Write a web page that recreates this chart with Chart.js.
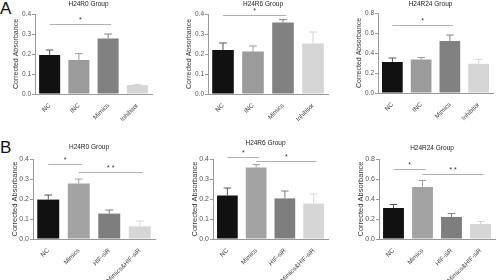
<!DOCTYPE html>
<html>
<head>
<meta charset="utf-8">
<script src="https://cdn.jsdelivr.net/npm/chart.js@4"></script>
<style>
    body { margin: 0; background: #fff; }
    #wrap { position: relative; width: 500px; height: 280px; overflow: hidden; }
    canvas { position: absolute; }
    .tag { position: absolute; font-family: "Liberation Sans", Arial, sans-serif; font-size: 17px; color: #111; line-height: 17px; }
</style>
</head>
<body>
<div id="wrap">
    <div class="tag" style="left:0px; top:0px;">A</div>
    <div class="tag" style="left:0px; top:139px;">B</div>
    <canvas id="a1" width="165" height="140" style="left:0; top:0;"></canvas>
    <canvas id="a2" width="165" height="140" style="left:165px; top:0;"></canvas>
    <canvas id="a3" width="170" height="140" style="left:330px; top:0;"></canvas>
    <canvas id="b1" width="165" height="140" style="left:0; top:140px;"></canvas>
    <canvas id="b2" width="165" height="140" style="left:165px; top:140px;"></canvas>
    <canvas id="b3" width="170" height="140" style="left:330px; top:140px;"></canvas>
</div>
<script>
// Данные
const groupsA = ['NC', 'INC', 'Mimics', 'Inhibitor'];
const groupsB = ['NC', 'Mimics', 'HIF-siR', 'Mimics&HIF-siR'];
const titles = ['H24R0 Group', 'H24R6 Group', 'H24R24 Group'];

const a0Values = [0.195, 0.170, 0.278, 0.045];
const a0Errors = [0.220, 0.202, 0.300, 0.048];
const a6Values = [0.220, 0.213, 0.357, 0.253];
const a6Errors = [0.255, 0.240, 0.372, 0.310];
const a24Values = [0.310, 0.335, 0.520, 0.292];
const a24Errors = [0.350, 0.355, 0.580, 0.335];

const b0Values = [0.197, 0.278, 0.127, 0.063];
const b0Errors = [0.220, 0.300, 0.145, 0.090];
const b6Values = [0.218, 0.357, 0.203, 0.177];
const b6Errors = [0.255, 0.372, 0.240, 0.225];
const b24Values = [0.310, 0.520, 0.220, 0.150];
const b24Errors = [0.345, 0.585, 0.255, 0.175];

// значимость: [от, до, уровень, метка]
const a0Sig = [[0, 2, 0.350, '*']];
const a6Sig = [[0, 2, 0.395, '*']];
const a24Sig = [[0, 2, 0.680, '*']];
const b0Sig = [[0, 1, 0.375, '*'], [1, 3, 0.336, '* *']];
const b6Sig = [[0, 1, 0.410, '*'], [1, 3, 0.390, '*']];
const b24Sig = [[0, 1, 0.700, '*'], [1, 3, 0.652, '* *']];

const colorsA = ['#111111', '#9b9b9c', '#818181', '#d5d5d5'];
const colorsB = ['#111111', '#a3a3a3', '#7e7e7e', '#d6d6d6'];

const FONT = '"Liberation Sans", Arial, sans-serif';
Chart.defaults.font.family = FONT;
Chart.defaults.color = '#444';

// Планки погрешностей, линии значимости и заголовок
const extrasPlugin = {
    id: 'extras',
    afterDatasetsDraw(chart) {
        const ctx = chart.ctx;
        const cfg = chart.options.plugins.extras;
        const meta = chart.getDatasetMeta(0);
        const y = chart.scales.y;
        const x = chart.scales.x;
        ctx.save();
        meta.data.forEach((bar, i) => {
            const top = y.getPixelForValue(cfg.errors[i]);
            const cap = bar.width * 0.18;
            ctx.strokeStyle = cfg.colors[i] === '#111111' ? '#555' : cfg.colors[i];
            ctx.lineWidth = 1;
            ctx.beginPath();
            ctx.moveTo(bar.x, bar.y);
            ctx.lineTo(bar.x, top);
            ctx.moveTo(bar.x - cap, top);
            ctx.lineTo(bar.x + cap, top);
            ctx.stroke();
        });
        cfg.sig.forEach(s => {
            const x1 = x.getPixelForValue(s[0]);
            const x2 = x.getPixelForValue(s[1]) + 3;
            const py = Math.round(y.getPixelForValue(s[2])) + 0.5;
            ctx.strokeStyle = '#b0b0b0';
            ctx.lineWidth = 1;
            ctx.beginPath();
            ctx.moveTo(x1, py);
            ctx.lineTo(x2, py);
            ctx.stroke();
            ctx.fillStyle = '#333';
            ctx.font = '7px ' + FONT;
            ctx.textAlign = 'center';
            ctx.textBaseline = 'bottom';
            ctx.fillText(s[3], (x1 + x2) / 2, py - 1);
        });
        const area = chart.chartArea;
        ctx.fillStyle = '#222';
        ctx.font = '6.5px ' + FONT;
        ctx.textAlign = 'center';
        ctx.textBaseline = 'middle';
        ctx.fillText(cfg.title, (area.left - 10 + area.right) / 2, cfg.titleY);
        ctx.restore();
    }
};

function makePanel(id, labels, values, errors, colors, sig, title, max, step, layout) {
    const ctx = document.getElementById(id).getContext('2d');
    return new Chart(ctx, {
        type: 'bar',
        data: {
            labels: labels,
            datasets: [{
                data: values,
                backgroundColor: colors,
                borderWidth: 0,
                barPercentage: 0.72,
                categoryPercentage: 1
            }]
        },
        options: {
            responsive: false,
            animation: false,
            layout: { padding: { left: layout.left, top: layout.top, right: layout.right, bottom: 0 } },
            plugins: {
                legend: { display: false },
                title: { display: false },
                tooltip: { enabled: false },
                extras: { errors: errors, colors: colors, sig: sig, title: title, titleY: layout.titleY }
            },
            scales: {
                x: {
                    grid: { display: false },
                    border: { display: true, color: '#999', width: 1 },
                    ticks: { minRotation: 45, maxRotation: 45, padding: 0, color: '#444', font: { size: 6.3 } },
                    afterFit: scale => { scale.height = layout.bottom; }
                },
                y: {
                    min: 0,
                    max: max,
                    grid: { display: true, drawOnChartArea: false, drawTicks: true, tickLength: 3, color: '#999' },
                    border: { display: true, color: '#999', width: 1 },
                    ticks: {
                        stepSize: step,
                        padding: 1,
                        color: '#555',
                        font: { size: layout.font - 0.5 },
                        callback: v => v.toFixed(1)
                    },
                    title: {
                        display: true,
                        text: 'Corrected Absorbance',
                        color: '#333',
                        font: { size: layout.font },
                        padding: { top: 1, bottom: 1 }
                    },
                    afterFit: scale => { scale.width = 24; }
                }
            }
        },
        plugins: [extrasPlugin]
    });
}

makePanel('a1', groupsA, a0Values, a0Errors, colorsA, a0Sig, titles[0], 0.4, 0.1,
    { left: 11, top: 14, right: 13, bottom: 46, titleY: 4, font: 7 });
makePanel('a2', groupsA, a6Values, a6Errors, colorsA, a6Sig, titles[1], 0.4, 0.1,
    { left: 19, top: 14, right: 2, bottom: 46, titleY: 4, font: 7 });
makePanel('a3', groupsA, a24Values, a24Errors, colorsA, a24Sig, titles[2], 0.8, 0.2,
    { left: 24, top: 13, right: 7, bottom: 47, titleY: 4, font: 7 });
makePanel('b1', groupsB, b0Values, b0Errors, colorsB, b0Sig, titles[0], 0.4, 0.1,
    { left: 9, top: 19, right: 10, bottom: 41, titleY: 7, font: 7.5 });
makePanel('b2', groupsB, b6Values, b6Errors, colorsB, b6Sig, titles[1], 0.4, 0.1,
    { left: 24, top: 19, right: 2, bottom: 41, titleY: 3, font: 7.5 });
makePanel('b3', groupsB, b24Values, b24Errors, colorsB, b24Sig, titles[2], 0.8, 0.2,
    { left: 25, top: 19, right: 5, bottom: 41, titleY: 8, font: 7.5 });
</script>
</body>
</html>
